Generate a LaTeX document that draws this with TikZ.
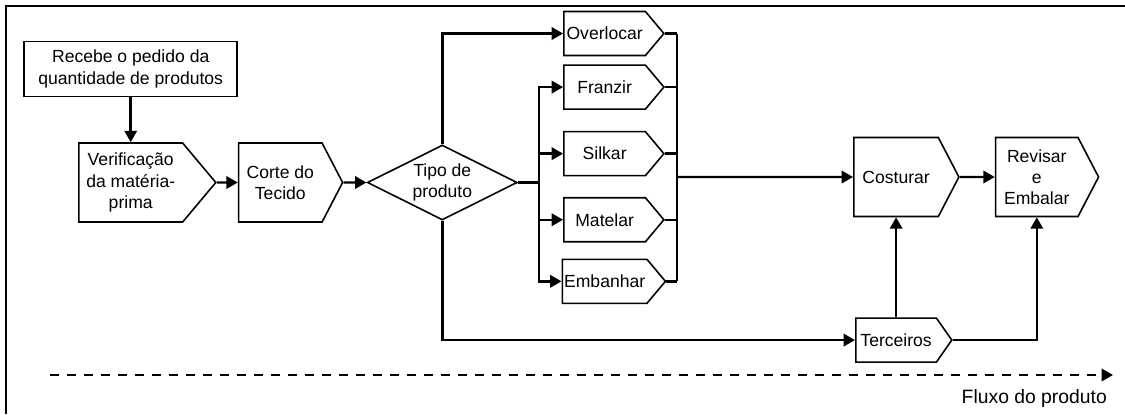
\documentclass[tikz,border=0pt]{standalone}
\usepackage{fontspec}
\setmainfont{Liberation Sans}
\usetikzlibrary{positioning,shapes.geometric,shapes.symbols,arrows.meta}

\begin{document}
\begin{tikzpicture}[font=\fontsize{10}{12}\selectfont]
    \tikzstyle{task} = [rectangle, draw, line width=0.9pt, minimum width=4.26cm, minimum height=1.1cm, align=center, inner sep=1pt]
    \tikzstyle{proc} = [signal, signal to=east, signal pointer angle=125, draw, line width=0.9pt, minimum height=1.58cm, align=center, inner sep=1pt]
    \tikzstyle{small} = [proc, signal pointer angle=100, minimum width=2cm, minimum height=0.88cm]
    \tikzstyle{choice} = [diamond, draw, line width=0.9pt, minimum width=3cm, minimum height=1.5cm, aspect=2, inner sep=0pt, align=center]
    \tikzstyle{arrow} = [line width=1.4pt, ->, >={Triangle[length=6.5pt,width=7pt]}]
    \tikzstyle{line} = [line width=1.4pt]

    \useasboundingbox (0,0) rectangle (22.5,-8.28);
    \draw [line width=1.1pt] (0.12,-8.28) -- (0.12,-0.12) -- (22.5,-0.12);

    \node (verif) [proc, signal pointer angle=100, minimum width=2.74cm, anchor=west] at (1.56,-3.65) {Verificação\\da matéria-\\prima};
    \node (recebe) [task, above=0.9cm of verif] {Recebe o pedido da\\quantidade de produtos};
    \node (corte) [proc, minimum width=2.08cm, right=0.42cm of verif] {Corte do\\Tecido};
    \node (tipo) [choice, right=0.46cm of corte] {Tipo de\\produto};

    \node (overlocar) [small, right=0.9cm of tipo, yshift=2.98cm] {Overlocar};
    \node (franzir) [small, below=0.16cm of overlocar] {Franzir};
    \node (silkar) [small, below=0.42cm of franzir] {Silkar};
    \node (matelar) [small, below=0.41cm of silkar] {Matelar};
    \node (embanhar) [small, below=0.32cm of matelar] {Embanhar};

    \node (costurar) [proc, minimum width=2.1cm, right=6.7cm of tipo, yshift=0.11cm] {Costurar};
    \node (revisar) [proc, minimum width=2.06cm, right=0.7cm of costurar] {Revisar\\e\\Embalar};
    \node (terceiros) [small, minimum width=1.92cm, signal pointer angle=110, below=2cm of costurar] {Terceiros};

    \coordinate (split) at ([xshift=0.42cm]tipo.east);
    \coordinate (join) at ([xshift=0.24cm]overlocar.east);
    \coordinate (merge) at (join |- costurar.west);

    \draw [arrow] (recebe.south) -- (recebe.south |- verif.north);
    \draw [arrow] (verif) -- (corte);
    \draw [arrow] (corte) -- (tipo);
    \draw [arrow] (tipo.north) |- (overlocar);
    \draw [line] (tipo.east) -- (split);
    \foreach \n in {franzir,silkar,matelar,embanhar}
        \draw [arrow] (split) |- (\n);
    \foreach \n in {overlocar,franzir,silkar,matelar,embanhar}
        \draw [line] (\n.east) -- (\n.east -| join);
    \draw [line] (join |- overlocar.east) -- (join |- embanhar.east);
    \draw [arrow] (merge) -- (costurar);
    \draw [arrow] (costurar) -- (revisar);
    \draw [arrow] (tipo.south) |- (terceiros);
    \draw [arrow] (terceiros.north) -- (costurar.south);
    \draw [arrow] (terceiros) -| (revisar);

    % fluxo
    \coordinate (flowstart) at (1.0,-7.5);
    \coordinate (flowend) at (22.26,-7.5);
    \draw [arrow, dash pattern=on 0.18cm off 0.16cm] (flowstart) -- (flowend);
    \node (flow) [anchor=base east, font=\fontsize{11}{13}\selectfont] at (22.26,-8.06) {Fluxo do produto};
\end{tikzpicture}
\end{document}
